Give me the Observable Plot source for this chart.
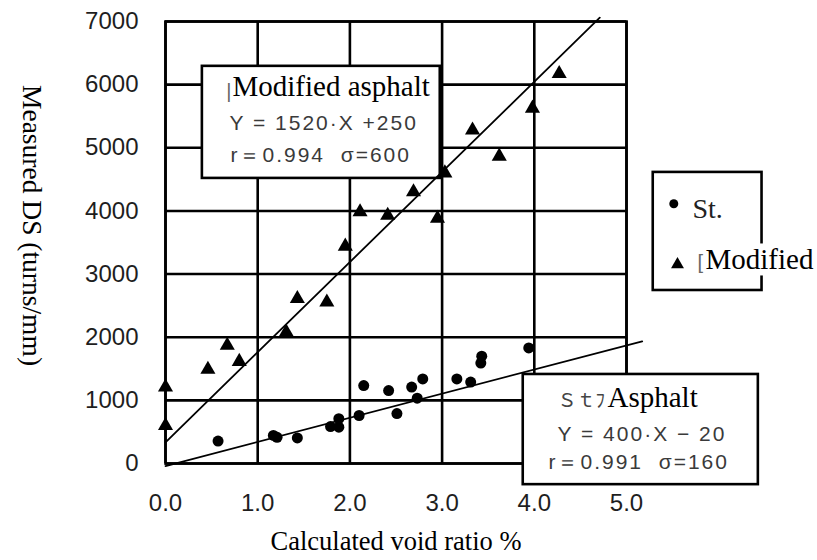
<!DOCTYPE html>
<html><head><meta charset="utf-8">
<script src="https://cdn.jsdelivr.net/npm/d3@7"></script>
<script src="https://cdn.jsdelivr.net/npm/@observablehq/plot@0.6"></script>
<style>
html,body{margin:0;padding:0;background:#fff;overflow:hidden;}
#chart svg{display:block;}
g[aria-description="eq"] text{letter-spacing:2px;}
</style></head><body>
<div id="chart"></div>
<script>
// ---- data ----
const xTicks = [0, 1, 2, 3, 4, 5];
const yTicks = [0, 1000, 2000, 3000, 4000, 5000, 6000, 7000];
const xTitle = "Calculated void ratio %";
const yTitle = "Measured DS (turns/mm)";

// St. asphalt (circles)
const stX = [0.57, 1.17, 1.21, 1.43, 1.79, 1.88, 1.88, 2.10, 2.15, 2.42, 2.51, 2.67, 2.73, 2.79, 3.16, 3.31, 3.42, 3.43, 3.94];
const stY = [355, 445, 415, 405, 585, 710, 575, 760, 1235, 1155, 790, 1210, 1035, 1340, 1340, 1290, 1590, 1700, 1830];
// Modified asphalt (triangles)
const modX = [0.00, 0.00, 0.46, 0.67, 0.80, 1.31, 1.43, 1.75, 1.95, 2.11, 2.41, 2.95, 2.69, 3.03, 3.33, 3.62, 3.98, 4.27];
const modY = [1210, 600, 1490, 1870, 1615, 2080, 2610, 2555, 3440, 3985, 3930, 3880, 4300, 4600, 5280, 4865, 5625, 6175];
// regression lines as drawn
const stFitX = [0, 5.17], stFitY = [-40, 1935];
const modFitX = [0, 4.71], modFitY = [335, 7060];

// annotation texts
const modTitle = "Modified asphalt";
const modEq = ["Y = 1520·X +250", "r＝0.994  σ=600"];
const stTitle = "Asphalt", stPrefix = "Ｓｔﾌ";
const stEq = ["Y = 400·X − 20", "r＝0.991  σ=160"];
const legendLabels = ["St.", "Modified"];
const remnants = ["|", "["];

// ---- build tables ----
const stPts = stX.map((x, i) => ({x, y: stY[i]}));
const modPts = modX.map((x, i) => ({x, y: modY[i]}));
const stFit = stFitX.map((x, i) => ({x, y: stFitY[i]}));
const modFit = modFitX.map((x, i) => ({x, y: modFitY[i]}));

// annotation layout (data units)
const boxes = [
  {x1: 0.40, x2: 2.98, y1: 4515, y2: 6290},
  {x1: 3.88, x2: 6.43, y1: -335, y2: 1410},
  {x1: 5.29, x2: 6.47, y1: 2740, y2: 4610}
];
const eqRows = [
  {x: 0.694, y: 5274, text: modEq[0]},
  {x: 0.705, y: 4767, text: modEq[1]},
  {x: 4.252, y: 364, text: stEq[0]},
  {x: 4.154, y: -95, text: stEq[1]}
];
const prefixRows = [{x: 4.252, y: 887, text: stPrefix}];
const remnantRows = [
  {x: 0.660, y: 5790, text: remnants[0]},
  {x: 5.770, y: 3073, text: remnants[1]}
];
const enRows = [
  {x: 0.727, y: 5828, text: modTitle},
  {x: 4.794, y: 887, text: stTitle},
  {x: 5.857, y: 3073, text: legendLabels[1]}
];
const legCircle = [{x: 5.513, y: 4113}];
const legTri = [{x: 5.553, y: 3152}];
const legSt = [{x: 5.716, y: 3891, text: legendLabels[0]}];

const LW = 2.6;
const serif = "'Liberation Serif', 'Times New Roman', serif";
const chart = Plot.plot({
  width: 817, height: 560,
  marginLeft: 165, marginRight: 191, marginTop: 21, marginBottom: 97,
  style: {fontFamily: "'Liberation Sans', Arial, sans-serif", background: "white", overflow: "visible"},
  x: {domain: [0, 5]},
  y: {domain: [0, 7000]},
  marks: [
    Plot.gridX(xTicks, {stroke: "black", strokeOpacity: 1, strokeWidth: LW}),
    Plot.gridY(yTicks, {stroke: "black", strokeOpacity: 1, strokeWidth: LW}),
    Plot.frame({stroke: "black", strokeWidth: LW}),
    Plot.axisX(xTicks, {tickSize: 0, tickPadding: 30, fontSize: 24, color: "#1e1e1e", tickFormat: d => d.toFixed(1), label: null}),
    Plot.axisY(yTicks, {tickSize: 0, tickPadding: 27, fontSize: 24, color: "#1e1e1e", tickFormat: d3.format("d"), label: null}),
    Plot.rect(boxes, {x1: "x1", x2: "x2", y1: "y1", y2: "y2", fill: "white", stroke: "black", strokeWidth: LW}),
    Plot.line(modFit, {x: "x", y: "y", stroke: "black", strokeWidth: 1.8}),
    Plot.line(stFit, {x: "x", y: "y", stroke: "black", strokeWidth: 1.8}),
    Plot.dot(stPts, {x: "x", y: "y", r: 5.5, fill: "black", symbol: "circle"}),
    Plot.dot(modPts, {x: "x", y: "y", r: 5.6, fill: "black", symbol: "triangle"}),
    Plot.dot(legCircle, {x: "x", y: "y", r: 4.5, fill: "black", symbol: "circle"}),
    Plot.dot(legTri, {x: "x", y: "y", r: 4.8, fill: "black", symbol: "triangle"}),
    Plot.text(eqRows, {x: "x", y: "y", text: "text", textAnchor: "start", lineAnchor: "bottom", fontSize: 21, fill: "#3a3a3a", ariaDescription: "eq"}),
    Plot.text(prefixRows, {x: "x", y: "y", text: "text", textAnchor: "start", lineAnchor: "bottom", fontSize: 19, fontFamily: "'Noto Sans CJK JP', sans-serif", fill: "#444"}),
    Plot.text(remnantRows, {x: "x", y: "y", text: "text", textAnchor: "start", lineAnchor: "bottom", fontSize: 20, fill: "#666"}),
    Plot.text(enRows, {x: "x", y: "y", text: "text", textAnchor: "start", lineAnchor: "bottom", fontSize: 29, fontFamily: serif, fill: "black", ariaDescription: "en"}),
    Plot.text(legSt, {x: "x", y: "y", text: "text", textAnchor: "start", lineAnchor: "bottom", fontSize: 28, fontFamily: serif, fill: "#222"}),
    Plot.text([yTitle], {text: d => d, frameAnchor: "left", rotate: 90, dx: -143, dy: -17, lineAnchor: "bottom", textAnchor: "middle", fontSize: 27.5, fontFamily: serif, fill: "black"}),
    Plot.text([xTitle], {text: d => d, frameAnchor: "bottom", dy: 86, lineAnchor: "bottom", textAnchor: "middle", fontSize: 26.5, fontFamily: serif, fill: "black"})
  ]
});
document.getElementById("chart").append(chart);

// white backgrounds behind the English overlay labels
chart.querySelectorAll('g[aria-description="en"] text').forEach(t => {
  const b = t.getBBox();
  const r = document.createElementNS("http://www.w3.org/2000/svg", "rect");
  r.setAttribute("x", b.x - 1);
  r.setAttribute("y", b.y);
  r.setAttribute("width", b.width + 2);
  r.setAttribute("height", b.height);
  r.setAttribute("fill", "white");
  if (t.getAttribute("transform")) r.setAttribute("transform", t.getAttribute("transform"));
  t.parentNode.insertBefore(r, t);
});
</script>
</body></html>
